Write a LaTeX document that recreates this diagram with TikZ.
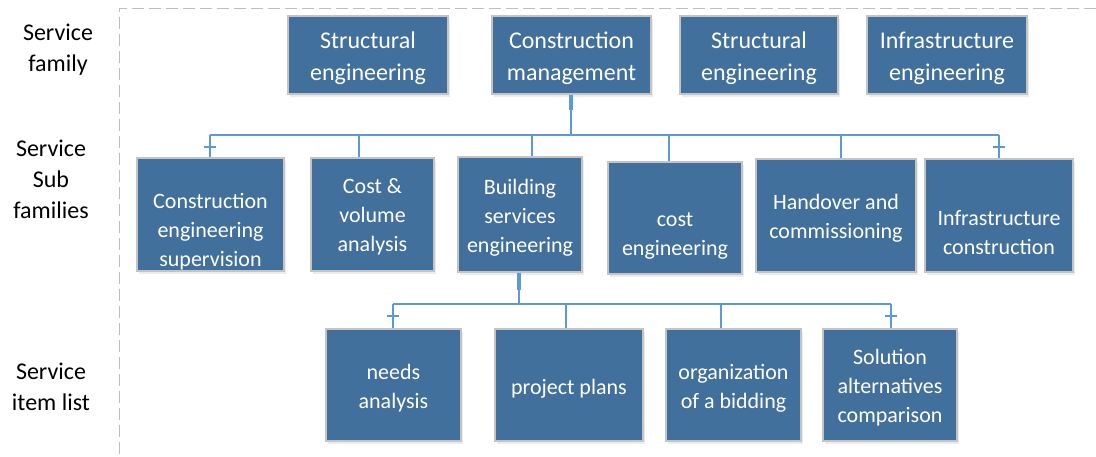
\documentclass[tikz,border=0pt]{standalone}
\usepackage{fontspec}
\setmainfont{Carlito}
\usetikzlibrary{shadows}
\definecolor{boxblue}{RGB}{66,112,156}
\definecolor{linkblue}{RGB}{91,155,213}
\definecolor{bordergrey}{RGB}{196,196,196}
\definecolor{dashgrey}{RGB}{190,190,190}
\tikzset{
  boxst/.style={rectangle, fill=boxblue, draw=bordergrey, line width=1.1pt, inner sep=0pt,
    drop shadow={shadow xshift=1.5pt, shadow yshift=-2.5pt, opacity=0.15}},
  txtbig/.style={text=white, align=center, inner sep=0pt, yshift=-2pt, font=\fontsize{24}{32}\selectfont},
  txtsm/.style={text=white, align=center, inner sep=0pt, yshift=-2pt, font=\fontsize{22}{29}\selectfont},
  lbl/.style={text=black, align=center, inner sep=0pt, font=\fontsize{24}{31}\selectfont},
  link/.style={draw=linkblue, line width=1.6pt},
  stub/.style={draw=linkblue, line width=3.2pt},
  tick/.style={draw=linkblue, line width=1.4pt},
  frame/.style={draw=dashgrey, line width=1pt, dash pattern=on 12pt off 5pt}
}
\newcommand\mybox[8]{%
  \node[boxst, minimum width={#4-#2}, minimum height={#5-#3}] (#1) at ({(#2+#4)/2},{(#3+#5)/2}) {};
  \node[#8] (#1t) at ({(#2+#4)/2},#6) {#7};
}
\begin{document}
\begin{tikzpicture}[x=1pt,y=-1pt]
\useasboundingbox (0,0) rectangle (1096,456);
% frame
\coordinate (fTL) at (119,8);
\coordinate (fTR) at (1096,8);
\coordinate (fBL) at (119,456);
\draw[frame] (fTR) -- (fTL) -- (fBL);
% left labels
\node[lbl] (l1) at (58,50) {Service\\family};
\node[lbl] (l2) at (51,179) {Service\\Sub\\families};
\node[lbl] (l3) at (51,387) {Service\\item list};
% top row
\mybox{se1}{288}{16}{448}{94}{56}{Structural\\engineering}{txtbig}
\mybox{cm}{492}{16}{651}{94}{56}{Construction\\management}{txtbig}
\mybox{se2}{680}{16}{838}{94}{56}{Structural\\engineering}{txtbig}
\mybox{ie}{867}{16}{1027}{94}{56}{Infrastructure\\engineering}{txtbig}
% sub families
\mybox{ces}{137}{158}{284}{271}{230}{Construction\\engineering\\supervision}{txtsm}
\mybox{cva}{311}{158}{434}{271}{215}{Cost \&\\volume\\analysis}{txtsm}
\mybox{bse}{458}{157}{582}{272}{216}{Building\\services\\engineering}{txtsm}
\mybox{ce}{608}{162}{742}{274}{233.5}{cost\\engineering}{txtsm}
\mybox{hc}{756}{159}{916}{272}{216}{Handover and\\commissioning}{txtsm}
\mybox{ic}{925}{159}{1073}{272}{231}{Infrastructure\\construction}{txtsm}
% items
\mybox{na}{326}{329}{461}{441}{386.5}{needs\\analysis}{txtsm}
\mybox{pp}{495}{329}{643}{441}{387}{project plans}{txtsm}
\mybox{ob}{666}{329}{801}{441}{386.5}{organization\\of a bidding}{txtsm}
\mybox{sa}{823}{329}{957}{441}{386}{Solution\\alternatives\\comparison}{txtsm}
% top connectors
\coordinate (s1) at (571,110);
\coordinate (b1) at (571,135);
\coordinate (d1) at (210,135);
\coordinate (d2) at (359,135);
\coordinate (d3) at (532,135);
\coordinate (d4) at (669,135);
\coordinate (d5) at (841,135);
\coordinate (d6) at (999,135);
\draw[stub] (s1 |- cm.south) -- (s1);
\draw[link] (s1) -- (b1);
\draw[link] (d1) -- (d6);
\draw[link] (d1) -- (d1 |- ces.north);
\draw[link] (d2) -- (d2 |- cva.north);
\draw[link] (d3) -- (d3 |- bse.north);
\draw[link] (d4) -- (d4 |- ce.north);
\draw[link] (d5) -- (d5 |- hc.north);
\draw[link] (d6) -- (d6 |- ic.north);
\coordinate (k1a) at (204,147); \coordinate (k1b) at (216,147);
\coordinate (k2a) at (993,147); \coordinate (k2b) at (1005,147);
\draw[tick] (k1a) -- (k1b);
\draw[tick] (k2a) -- (k2b);
% bottom connectors
\coordinate (s2) at (519,290);
\coordinate (b2) at (519,304);
\coordinate (e1) at (393,304);
\coordinate (e2) at (566,304);
\coordinate (e3) at (721,304);
\coordinate (e4) at (891,304);
\draw[stub] (s2 |- bse.south) -- (s2);
\draw[link] (s2) -- (b2);
\draw[link] (e1) -- (e4);
\draw[link] (e1) -- (e1 |- na.north);
\draw[link] (e2) -- (e2 |- pp.north);
\draw[link] (e3) -- (e3 |- ob.north);
\draw[link] (e4) -- (e4 |- sa.north);
\coordinate (k3a) at (387,316); \coordinate (k3b) at (399,316);
\coordinate (k4a) at (885,316); \coordinate (k4b) at (897,316);
\draw[tick] (k3a) -- (k3b);
\draw[tick] (k4a) -- (k4b);
\end{tikzpicture}
\end{document}
